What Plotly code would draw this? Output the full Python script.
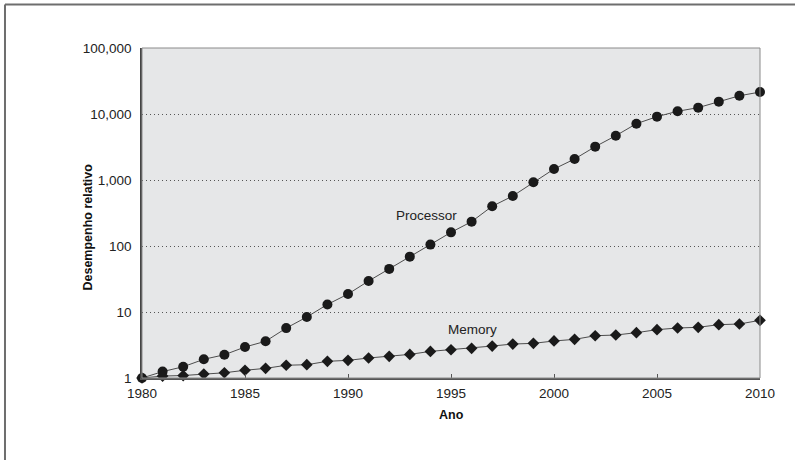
import plotly.graph_objects as go

# Relative performance, 1980 = 1
years = list(range(1980, 2011))
processor = [1, 1.25, 1.48, 1.92, 2.25, 2.95, 3.6, 5.7, 8.4, 13, 18.7,
             29.5, 45, 69, 105, 161, 234, 400, 572, 923, 1468,
             2080, 3200, 4690, 7130, 9120, 11000, 12480, 15380, 18900, 21500]
memory = [1, 1.07, 1.09, 1.15, 1.2, 1.31, 1.4, 1.56, 1.59, 1.79, 1.85,
          2.01, 2.13, 2.28, 2.53, 2.68, 2.82, 3.05, 3.27, 3.35, 3.64,
          3.85, 4.37, 4.48, 4.86, 5.4, 5.72, 5.86, 6.43, 6.58, 7.48]

y_tickvals = [1, 10, 100, 1000, 10000, 100000]
y_ticktext = ["1", "10", "100", "1,000", "10,000", "100,000"]
x_tickvals = [1980, 1985, 1990, 1995, 2000, 2005, 2010]

FONT = "Liberation Sans, Arial, sans-serif"
LINE = "#4d4d4d"

fig = go.Figure()
fig.add_trace(go.Scatter(
    x=years, y=processor, mode="lines+markers", name="Processor",
    line=dict(color=LINE, width=1),
    marker=dict(symbol="circle", size=10, color="#1a1a1a"),
    cliponaxis=False,
))
fig.add_trace(go.Scatter(
    x=years, y=memory, mode="lines+markers", name="Memory",
    line=dict(color=LINE, width=1),
    marker=dict(symbol="diamond", size=9, color="#1a1a1a"),
    cliponaxis=False,
))

fig.add_annotation(x=1993.8, y=2.46, text="Processor", showarrow=False,
                   xref="x", yref="y", font=dict(size=13.5, color="#222"))
fig.add_annotation(x=1996.05, y=0.73, text="Memory", showarrow=False,
                   xref="x", yref="y", font=dict(size=13.5, color="#222"))

# Axis titles
fig.add_annotation(x=-0.0874, y=0.459, xref="paper", yref="paper",
                   xanchor="center", yanchor="middle",
                   text="<b>Desempenho relativo</b>", textangle=-90, showarrow=False,
                   font=dict(size=12.5, color="#111"))
fig.add_annotation(x=0.5, y=-0.112, xref="paper", yref="paper",
                   xanchor="center", yanchor="middle",
                   text="<b>Ano</b>", showarrow=False,
                   font=dict(size=12.5, color="#111"))

# Light border around the plot area
fig.add_shape(type="rect", xref="paper", yref="paper", x0=0, y0=0, x1=1, y1=1,
              line=dict(color="#8a8a8a", width=1), layer="above")
# Outer frame: top and left edges
fig.add_shape(type="line", xref="paper", yref="paper",
              x0=-0.2217, x1=1.1, y0=1.1318, y1=1.1318,
              line=dict(color="#6e6e6e", width=2))
fig.add_shape(type="line", xref="paper", yref="paper",
              x0=-0.2217, x1=-0.2217, y0=-0.3, y1=1.1318,
              line=dict(color="#6e6e6e", width=2))

fig.update_layout(
    width=795, height=460,
    margin=dict(l=142, r=35, t=48, b=82),
    paper_bgcolor="white",
    plot_bgcolor="#e6e7e8",
    showlegend=False,
    font=dict(family=FONT, size=13, color="#222"),
    xaxis=dict(
        range=[1980, 2010], tickvals=x_tickvals, ticks="inside", ticklen=4,
        tickcolor="#555", showgrid=False, zeroline=False,
        showline=True, linecolor="#555", linewidth=2,
        tickfont=dict(size=13.5, color="#222"), ticklabelstandoff=2,
    ),
    yaxis=dict(
        type="log", range=[0, 5], tickvals=y_tickvals, ticktext=y_ticktext,
        ticks="", showgrid=True, gridcolor="#555", gridwidth=1, griddash="1px,3px",
        zeroline=False, showline=True, linecolor="#444", linewidth=1.5,
        tickfont=dict(size=13.5, color="#222"), ticklabelstandoff=6,
    ),
)

fig.write_html("out.html")
